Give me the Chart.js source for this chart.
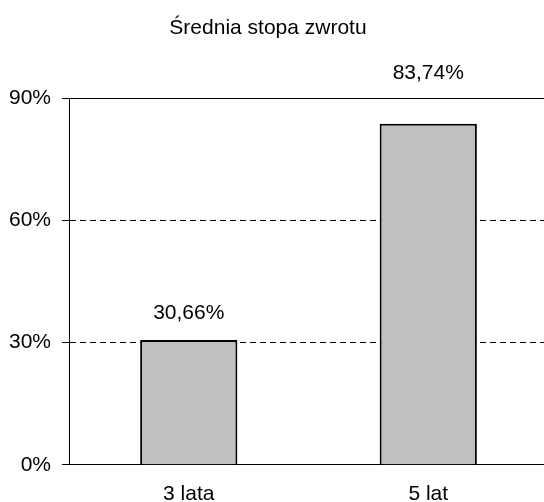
<!DOCTYPE html>
<html>
<head>
<meta charset="utf-8">
<script src="https://cdn.jsdelivr.net/npm/chart.js@4/dist/chart.umd.min.js"></script>
<style>
  html, body { margin: 0; padding: 0; background: #fff; overflow: hidden; }
  #wrap { position: absolute; left: -12px; top: 0; width: 560px; height: 524px; }
</style>
</head>
<body>
<div id="wrap"><canvas id="chart"></canvas></div>
<script>
const TITLE = 'Średnia stopa zwrotu';
const CATEGORIES = ['3 lata', '5 lat'];
const RETURNS = [30.66, 83.74];
const Y_TICKS = [0, 30, 60, 90];

const FONT = 'Arial, "Liberation Sans", sans-serif';
const fmt = (v) => v.toFixed(2).replace('.', ',') + '%';

// value labels above bars, pushed above the plot when they'd hit the top line
const valueLabels = {
  id: 'valueLabels',
  afterDatasetsDraw(chart) {
    const { ctx, chartArea } = chart;
    const meta = chart.getDatasetMeta(0);
    ctx.save();
    ctx.font = '21px ' + FONT;
    ctx.fillStyle = '#000';
    ctx.textAlign = 'center';
    ctx.textBaseline = 'middle';
    meta.data.forEach((bar, i) => {
      let y = bar.y - 27;
      if (y > chartArea.top - 25 && y < chartArea.top + 20) y = chartArea.top - 25;
      ctx.fillText(fmt(RETURNS[i]), bar.x, y);
    });
    ctx.restore();
  }
};

// solid line at the top of the value axis
const topLine = {
  id: 'topLine',
  afterDraw(chart) {
    const { ctx, chartArea, scales } = chart;
    const y = Math.round(scales.y.getPixelForValue(Y_TICKS[Y_TICKS.length - 1])) + 0.5;
    ctx.save();
    ctx.strokeStyle = '#000';
    ctx.lineWidth = 1;
    ctx.beginPath();
    ctx.moveTo(chartArea.left, y);
    ctx.lineTo(chartArea.right, y);
    ctx.stroke();
    ctx.restore();
  }
};

new Chart(document.getElementById('chart'), {
  type: 'bar',
  data: {
    labels: CATEGORIES,
    datasets: [{
      data: RETURNS,
      backgroundColor: '#c0c0c0',
      borderColor: '#000',
      borderWidth: 2,
      barPercentage: 0.406,
      categoryPercentage: 1
    }]
  },
  options: {
    responsive: true, maintainAspectRatio: false, animation: false,
    layout: { padding: 0 },
    plugins: {
      legend: { display: false },
      tooltip: { enabled: false },
      title: {
        display: true, text: TITLE, color: '#000',
        font: { family: FONT, size: 21, weight: 'normal' },
        padding: { top: 16, bottom: 57 }
      }
    },
    scales: {
      x: {
        grid: { display: false, drawTicks: false },
        border: { display: true, color: '#000', width: 1 },
        ticks: { color: '#000', font: { family: FONT, size: 21 }, padding: 17 }
      },
      y: {
        min: Y_TICKS[0], max: Y_TICKS[Y_TICKS.length - 1],
        afterBuildTicks: (scale) => { scale.ticks = Y_TICKS.map(v => ({ value: v })); },
        afterFit: (scale) => { scale.width += 10; },
        grid: { color: '#000', lineWidth: 1, tickLength: 7, tickColor: '#000' },
        border: { display: true, color: '#000', width: 1, dash: [6, 4] },
        ticks: { color: '#000', font: { family: FONT, size: 21 }, padding: 11,
          callback: (v) => v + '%' }
      }
    }
  },
  plugins: [valueLabels, topLine]
});
</script>
</body>
</html>
